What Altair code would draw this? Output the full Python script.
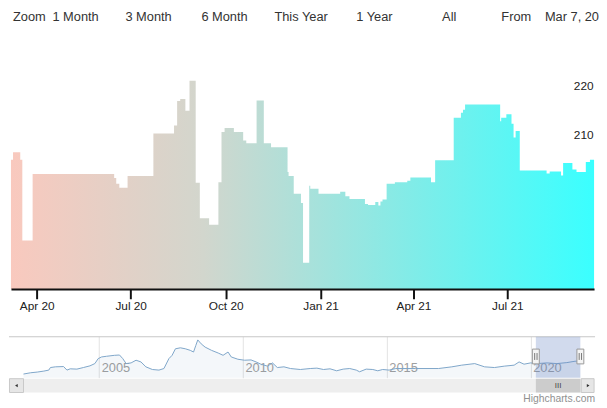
import altair as alt
import pandas as pd

# ---------------- main series (step start dates / values) ----------------
step_dates = [
    "2020-03-07", "2020-03-09", "2020-03-16", "2020-03-18", "2020-03-28",
    "2020-06-15", "2020-06-17", "2020-06-20", "2020-06-28", "2020-07-23",
    "2020-08-12", "2020-08-15", "2020-08-18", "2020-08-23", "2020-08-27",
    "2020-09-02", "2020-09-06", "2020-09-15", "2020-09-24", "2020-09-27",
    "2020-09-30", "2020-10-09", "2020-10-18", "2020-10-21", "2020-10-31",
    "2020-11-07", "2020-11-14", "2020-11-30", "2020-12-01", "2020-12-06",
    "2020-12-13", "2020-12-15", "2020-12-21", "2020-12-22", "2020-12-30",
    "2021-01-20", "2021-01-25", "2021-01-29", "2021-02-13", "2021-02-16",
    "2021-02-23", "2021-02-26", "2021-02-28", "2021-03-02", "2021-03-06",
    "2021-03-14", "2021-03-26", "2021-03-29", "2021-04-18", "2021-04-22",
    "2021-05-10", "2021-05-17", "2021-05-19", "2021-05-21", "2021-06-24",
    "2021-06-25", "2021-06-30", "2021-07-05", "2021-07-07", "2021-07-09",
    "2021-07-13", "2021-08-08", "2021-08-11", "2021-08-22", "2021-08-24",
    "2021-09-02", "2021-09-06", "2021-09-15", "2021-09-19", "2021-09-23",
]
step_values = [
    206.2, 207.7, 206.2, 189.8, 203.3,
    202.5, 201.3, 200.5, 202.9, 211.5,
    213.1, 218.1, 218.5, 216.1, 222.2,
    201.5, 194.3, 193.0, 201.6, 211.8,
    212.6, 211.8, 210.1, 209.5, 218.2,
    209.5, 208.7, 203.7, 202.9, 199.3,
    197.4, 185.3, 200.9, 200.3, 199.3,
    199.7, 198.8, 198.2, 197.2, 197.0,
    197.6, 196.9, 197.7, 198.1, 201.3,
    201.6, 201.9, 202.6, 201.6, 206.1,
    214.7, 215.7, 216.3, 217.4, 214.0,
    214.7, 215.4, 213.5, 210.7, 212.0,
    204.0, 203.4, 203.8, 203.0, 205.5,
    204.2, 203.7, 205.7, 206.2, 206.2,
]
y_ticks = [190, 200, 210, 220]

# ---------------- navigator series ----------------
nav_dates = [
    "2002-05-16", "2002-08-15", "2002-11-07", "2003-01-30", "2003-04-02", "2003-04-23",
    "2003-06-25", "2003-10-07", "2003-11-19", "2003-12-30", "2004-03-24", "2004-06-14",
    "2004-09-06", "2004-11-07", "2004-12-19", "2005-01-30", "2005-04-03", "2005-07-16",
    "2005-09-16", "2005-10-28", "2005-12-09", "2006-02-10", "2006-04-14", "2006-06-15",
    "2006-08-17", "2006-11-07", "2007-01-30", "2007-04-03", "2007-06-05", "2007-07-16",
    "2007-08-27", "2007-10-29", "2007-12-31", "2008-03-03", "2008-04-13", "2008-05-12",
    "2008-06-06", "2008-07-19", "2008-09-07", "2008-11-28", "2009-02-20", "2009-04-23",
    "2009-06-25", "2009-08-05", "2009-10-28", "2010-01-20", "2010-04-13", "2010-06-15",
    "2010-08-16", "2010-11-08", "2011-01-10", "2011-03-13", "2011-06-05", "2011-08-26",
    "2011-12-30", "2012-05-04", "2012-07-27", "2012-10-19", "2013-01-10", "2013-04-04",
    "2013-06-26", "2013-09-17", "2013-12-09", "2014-01-20", "2014-04-14", "2014-07-07",
    "2014-09-08", "2014-11-09", "2015-01-30", "2015-04-24", "2015-12-31", "2016-10-19",
    "2017-04-05", "2017-08-08", "2018-01-21", "2018-05-26", "2018-09-28", "2019-01-31",
    "2019-06-05", "2019-08-07", "2019-10-09", "2020-01-01", "2020-03-24", "2020-07-27",
    "2020-11-29", "2021-04-04", "2021-07-17", "2021-09-23",
]
nav_values = [
    168.1, 172.0, 174.1, 177.1, 180.1, 187.9,
    190.0, 190.9, 180.1, 184.0, 183.1, 187.9,
    193.0, 199.9, 214.9, 220.0, 222.1, 225.1,
    226.0, 214.9, 199.9, 202.0, 210.1, 205.0,
    190.0, 181.9, 180.1, 184.9, 214.9, 225.1,
    244.9, 247.9, 244.9, 240.1, 235.0, 255.1,
    271.9, 259.9, 250.0, 240.1, 232.0, 225.1,
    235.0, 220.0, 213.1, 210.1, 211.0, 205.0,
    198.1, 192.1, 202.0, 187.9, 190.0, 184.9,
    181.9, 184.9, 186.1, 181.9, 184.0, 178.0,
    183.1, 184.9, 180.1, 175.0, 183.1, 181.9,
    178.0, 181.9, 180.1, 184.9, 184.9, 184.9,
    190.0, 195.1, 199.9, 190.0, 187.9, 192.1,
    195.1, 205.0, 198.1, 202.0, 199.9, 202.0,
    199.9, 202.9, 207.1, 208.0,
]

# selected range shown in the main chart
sel_start = "2020-03-07"
sel_end = "2021-09-23"

# range-selector texts
button_labels = ["Zoom", "1 Month", "3 Month", "6 Month", "This Year", "1 Year", "All", "From"]
date_input_label = "Mar 7, 20"

FONT = "Liberation Sans"

main_df = pd.DataFrame({"date": step_dates, "price": step_values})
nav_df = pd.DataFrame({"date": nav_dates, "value": nav_values})
sel_df = pd.DataFrame({"start": [sel_start], "end": [sel_end]})
sel_df["mid"] = (pd.to_datetime(sel_df["start"]) + (pd.to_datetime(sel_df["end"]) - pd.to_datetime(sel_df["start"])) / 2).dt.strftime("%Y-%m-%d")

def dt(s):
    y, m, d = (int(p) for p in s.split("-"))
    return alt.DateTime(year=y, month=m, date=d, utc=True)

# ---------------- main chart ----------------
x_main = alt.Scale(type="utc", domain=[dt("2020-03-07"), dt("2021-09-23")], nice=False)
y_main = alt.Scale(domain=[180, 230], nice=False, zero=False)

grad = alt.Gradient(
    gradient="linear",
    stops=[alt.GradientStop(color="#F9C9BE", offset=0),
           alt.GradientStop(color="#D2D6CD", offset=0.33),
           alt.GradientStop(color="#3AFFFF", offset=1)],
    x1=0, x2=1, y1=0, y2=0,
)

area = alt.Chart(main_df).mark_area(interpolate="step-after", color=grad, opacity=1).encode(
    x=alt.X("date:T", scale=x_main, title=None,
            axis=alt.Axis(format="%b %y", tickCount=alt.TimeIntervalStep(interval="month", step=3),
                          grid=False, domainColor="#111111", domainWidth=2,
                          tickColor="#111111", tickWidth=2, tickSize=10,
                          labelPadding=2, labelFontSize=12, labelColor="#222222",
                          labelFont=FONT, labelFlush=False, zindex=1)),
    y=alt.Y("price:Q", scale=y_main, title=None,
            axis=alt.Axis(orient="right", values=y_ticks, ticks=False, domain=False, grid=False,
                          labelAlign="right", labelPadding=-1, labelBaseline="alphabetic",
                          labelOffset=-2, labelFontSize=12, labelColor="#222222",
                          labelFont=FONT, zindex=0)),
    y2=alt.datum(180),
)

button_left = [12, 52, 126, 203, 277, 360, 447, 507]
texts = []
for lbl, px in zip(button_labels, button_left):
    texts.append(
        alt.Chart(pd.DataFrame({"t": [lbl]})).mark_text(
            align="left", baseline="middle", fontSize=13, font=FONT, color="#333333"
        ).encode(text="t:N", x=alt.value(px - 10), y=alt.value(-26))
    )
texts.append(
    alt.Chart(pd.DataFrame({"t": [date_input_label]})).mark_text(
        align="right", baseline="middle", fontSize=13, font=FONT, color="#333333"
    ).encode(text="t:N", x=alt.value(596), y=alt.value(-26))
)

main = alt.layer(area, *texts).properties(width=591, height=250)

# ---------------- navigator ----------------
x_nav = alt.Scale(type="utc", domain=[dt("2001-12-08"), dt("2022-03-16")], nice=False)
y_nav = alt.Scale(domain=[157, 283], nice=False, zero=False)

nav_x_axis = alt.Axis(format="%Y", tickCount=alt.TimeIntervalStep(interval="year", step=5),
                      grid=True, gridColor="#e3e3e3", domain=False, ticks=False,
                      labelAlign="left", labelBaseline="bottom", labelPadding=-3, labelOffset=2,
                      labelColor="#a0a0a0", labelFontSize=13, labelFont=FONT, labelFlush=False,
                      title=None, zindex=0)

nav_area = alt.Chart(nav_df).mark_area(color="#4572A7", opacity=0.06).encode(
    x=alt.X("date:T", scale=x_nav, axis=nav_x_axis),
    y=alt.Y("value:Q", scale=y_nav, axis=None),
    y2=alt.datum(157),
)
nav_line = alt.Chart(nav_df).mark_line(color="#7ea6c9", strokeWidth=1).encode(
    x=alt.X("date:T", scale=x_nav),
    y=alt.Y("value:Q", scale=y_nav),
)
outline = alt.Chart(sel_df).mark_rule(color="#c6c6c6", strokeWidth=1).encode(
    x=alt.value(-2), x2=alt.value(592), y=alt.value(0.5)
)
mask = alt.Chart(sel_df).mark_rect(color="#6685c2", opacity=0.3).encode(
    x=alt.X("start:T", scale=x_nav), x2="end:T", y=alt.value(0.5), y2=alt.value(42)
)
# scrollbar
track = alt.Chart(sel_df).mark_rect(color="#eeeeee").encode(
    x=alt.value(12.7), x2=alt.value(579), y=alt.value(43), y2=alt.value(57)
)
thumb = alt.Chart(sel_df).mark_rect(color="#cccccc").encode(
    x=alt.X("start:T", scale=x_nav), x2="end:T", y=alt.value(43), y2=alt.value(57)
)
grip = alt.Chart(sel_df).mark_text(text="III", fontSize=8, font=FONT, color="#444444",
                                    baseline="middle", align="center").encode(
    x=alt.X("mid:T", scale=x_nav), y=alt.value(50)
)
btn_l = alt.Chart(sel_df).mark_rect(fill="#e6e6e6", stroke="#c8c8c8", strokeWidth=1).encode(
    x=alt.value(-1.5), x2=alt.value(12.7), y=alt.value(43), y2=alt.value(57)
)
btn_r = alt.Chart(sel_df).mark_rect(fill="#e6e6e6", stroke="#c8c8c8", strokeWidth=1).encode(
    x=alt.value(578), x2=alt.value(591), y=alt.value(43), y2=alt.value(57)
)
arr_l = alt.Chart(sel_df).mark_point(shape="triangle-left", filled=True, size=10, color="#333333", opacity=1).encode(
    x=alt.value(5.5), y=alt.value(50)
)
arr_r = alt.Chart(sel_df).mark_point(shape="triangle-right", filled=True, size=10, color="#333333", opacity=1).encode(
    x=alt.value(585), y=alt.value(50)
)
handles = []
for fld in ["start", "end"]:
    handles.append(alt.Chart(sel_df).mark_rect(fill="#f4f4f4", stroke="#999999", strokeWidth=1,
                                               xOffset=-3.5, x2Offset=3.5).encode(
        x=alt.X(f"{fld}:T", scale=x_nav), x2=f"{fld}:T",
        y=alt.value(13), y2=alt.value(28)))
    for off in (-1.2, 1.2):
        handles.append(alt.Chart(sel_df).mark_rule(color="#777777", strokeWidth=1, xOffset=off).encode(
            x=alt.X(f"{fld}:T", scale=x_nav), y=alt.value(17), y2=alt.value(24)))
credit = alt.Chart(pd.DataFrame({"t": ["Highcharts.com"]})).mark_text(
    align="right", baseline="middle", fontSize=10.5, font=FONT, color="#909090"
).encode(text="t:N", x=alt.value(592), y=alt.value(63.5))

nav = alt.layer(nav_area, nav_line, outline, mask, track, thumb, grip, btn_l, btn_r,
                arr_l, arr_r, *handles, credit).properties(width=591, height=42)

chart = alt.vconcat(main, nav, spacing=25).properties(
    padding=0, background="white"
).configure_view(stroke=None)

chart.save("out.html", embed_options={"renderer": "svg", "actions": False})
